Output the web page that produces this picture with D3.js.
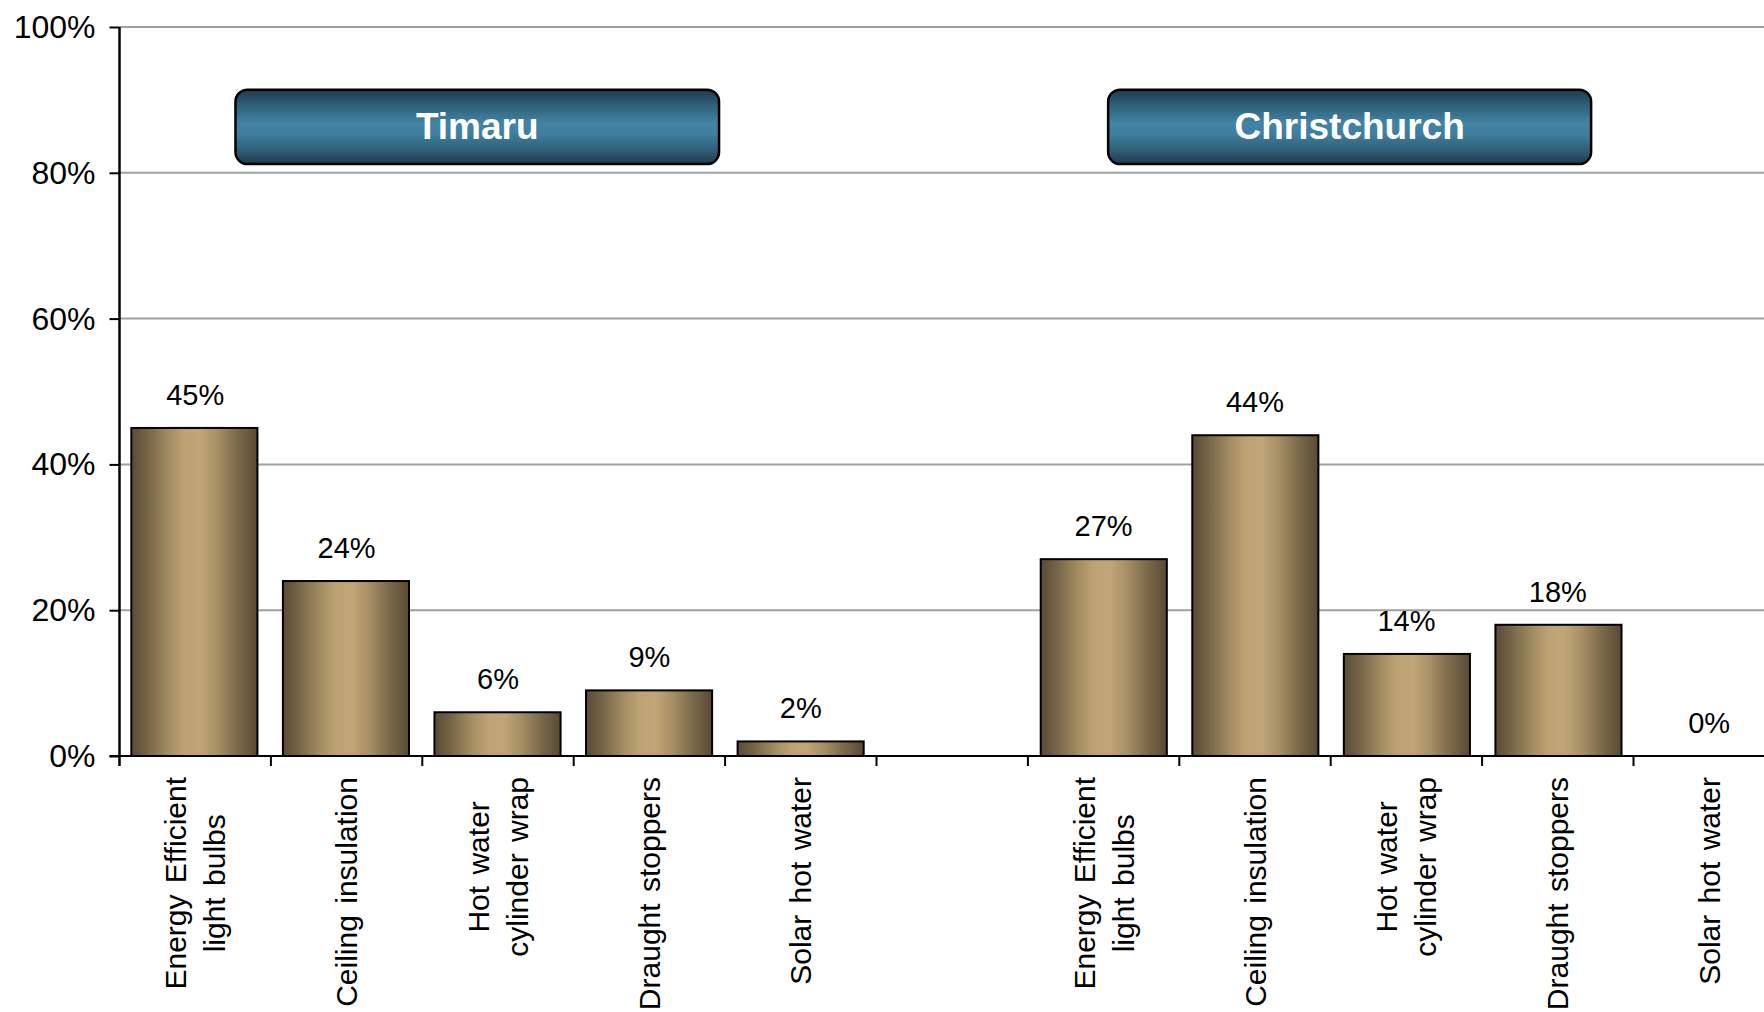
<!DOCTYPE html>
<html>
<head>
<meta charset="utf-8">
<script src="https://cdn.jsdelivr.net/npm/d3@7"></script>
<style>
  html, body { margin: 0; padding: 0; background: #ffffff; }
  svg { display: block; font-family: "Liberation Sans", Arial, sans-serif; }
</style>
</head>
<body>
<svg id="chart" width="1764" height="1012"></svg>
<script>
// Energy-saving measures adopted, by city (percent of households)
const cities = ["Timaru", "Christchurch"];
const measures = [
  "Energy Efficient\nlight bulbs",
  "Ceiling insulation",
  "Hot water\ncylinder wrap",
  "Draught stoppers",
  "Solar hot water"
];
const timaruValues = [45, 24, 6, 9, 2];
const christchurchValues = [27, 44, 14, 18, 0];
const yTicks = [0, 20, 40, 60, 80, 100];

(function () {
const W = 1764, H = 1012;
const svg = d3.select("#chart");

// Plot frame (the category axis runs past the right edge of the page)
const plotLeft = 119.5, plotTop = 27, plotBottom = 756;
const slotWidth = 151.4;

// one slot per measure, with an empty slot between the two cities
const slots = [];
measures.forEach((m, i) => slots.push({ key: "T" + i, label: m, value: timaruValues[i] }));
slots.push({ key: "gap", label: "", value: null });
measures.forEach((m, i) => slots.push({ key: "C" + i, label: m, value: christchurchValues[i] }));

const xSlot = d3.scaleBand()
  .domain(slots.map(d => d.key))
  .range([plotLeft, plotLeft + slots.length * slotWidth])
  .padding(0);
const xBar = d3.scaleBand()
  .domain(slots.map(d => d.key))
  .range([plotLeft, plotLeft + slots.length * slotWidth])
  .paddingInner(0.168)
  .paddingOuter(0.078);
const y = d3.scaleLinear().domain([0, 100]).range([plotBottom, plotTop]);

const defs = svg.append("defs");
const barGrad = defs.append("linearGradient")
  .attr("id", "barFill").attr("x1", 0).attr("x2", 1).attr("y1", 0).attr("y2", 0);
[[0, "#594b35"], [0.1, "#6e5f44"], [0.3, "#a38d62"], [0.42, "#bda372"], [0.55, "#c0a677"],
 [0.68, "#a89066"], [0.84, "#7c6a4b"], [1, "#584a34"]]
  .forEach(([o, c]) => barGrad.append("stop").attr("offset", o).attr("stop-color", c));

const boxGrad = defs.append("linearGradient")
  .attr("id", "boxFill").attr("x1", 0).attr("x2", 0).attr("y1", 0).attr("y2", 1);
[[0, "#1f3a4b"], [0.2, "#2f5e77"], [0.45, "#4284a4"], [0.6, "#3f7f9e"], [0.85, "#2c5870"], [1, "#1f3b4d"]]
  .forEach(([o, c]) => boxGrad.append("stop").attr("offset", o).attr("stop-color", c));

// horizontal gridlines
svg.append("g").selectAll("line")
  .data(yTicks.filter(t => t > 0))
  .join("line")
  .attr("x1", plotLeft).attr("x2", W)
  .attr("y1", d => y(d)).attr("y2", d => y(d))
  .attr("stroke", "#a0a0a0").attr("stroke-width", 2);

// value axis
const yAxis = svg.append("g").attr("transform", `translate(${plotLeft},0)`)
  .call(d3.axisLeft(y).tickValues(yTicks).tickFormat(d => d + "%").tickSize(10).tickPadding(14));
yAxis.select(".domain").remove();
yAxis.selectAll(".tick line").attr("stroke", "#000").attr("stroke-width", 2);
yAxis.selectAll(".tick text").attr("fill", "#000").attr("font-size", 32)
  .attr("font-family", "Liberation Sans, Arial, sans-serif").attr("dy", "0.33em");

// bars
svg.append("g").selectAll("rect")
  .data(slots.filter(d => d.value !== null))
  .join("rect")
  .attr("x", d => xBar(d.key))
  .attr("width", xBar.bandwidth())
  .attr("y", d => y(d.value))
  .attr("height", d => y(0) - y(d.value))
  .attr("fill", "url(#barFill)")
  .attr("stroke", "#000").attr("stroke-width", 2);

// value labels
svg.append("g").selectAll("text")
  .data(slots.filter(d => d.value !== null))
  .join("text")
  .attr("x", d => xSlot(d.key) + xSlot.bandwidth() / 2)
  .attr("y", d => y(d.value) - 23)
  .attr("text-anchor", "middle")
  .attr("font-size", 29)
  .attr("fill", "#000")
  .text(d => d.value + "%");

// category axis line and slot-boundary ticks
svg.append("line")
  .attr("x1", plotLeft - 10).attr("x2", W)
  .attr("y1", plotBottom).attr("y2", plotBottom)
  .attr("stroke", "#000").attr("stroke-width", 2);
svg.append("line")
  .attr("x1", plotLeft).attr("x2", plotLeft)
  .attr("y1", plotTop).attr("y2", plotBottom + 10)
  .attr("stroke", "#000").attr("stroke-width", 2.5);
svg.append("g").selectAll("line")
  .data(slots)
  .join("line")
  .attr("x1", d => xSlot(d.key) + xSlot.bandwidth()).attr("x2", d => xSlot(d.key) + xSlot.bandwidth())
  .attr("y1", plotBottom).attr("y2", plotBottom + 10)
  .attr("stroke", "#000").attr("stroke-width", 2);

// rotated category labels
const lineGap = 39;
const labelGroups = svg.append("g").selectAll("g")
  .data(slots.filter(d => d.label))
  .join("g")
  .attr("transform", d => `translate(${xSlot(d.key) + xSlot.bandwidth() / 2},${plotBottom}) rotate(-90)`);
labelGroups.each(function (d) {
  const g = d3.select(this);
  const lines = d.label.split("\n");
  const texts = lines.map((ln, i) => g.append("text")
    .attr("text-anchor", "middle")
    .attr("font-size", 30)
    .attr("word-spacing", 3)
    .attr("fill", "#000")
    .attr("y", (i - (lines.length - 1) / 2) * lineGap)
    .attr("dy", "0.35em")
    .text(ln));
  const longest = d3.max(texts, t => t.node().getComputedTextLength());
  texts.forEach(t => t.attr("x", -(21 + longest / 2)));
});

// city header boxes
const slotIndex = d3.scaleLinear().domain([0, slots.length]).range([plotLeft, plotLeft + slots.length * slotWidth]);
const headerSpans = [[0.766, 3.96], [6.53, 9.72]];
const headers = svg.append("g").selectAll("g")
  .data(cities)
  .join("g");
headers.append("rect")
  .attr("x", (d, i) => slotIndex(headerSpans[i][0]))
  .attr("width", (d, i) => slotIndex(headerSpans[i][1]) - slotIndex(headerSpans[i][0]))
  .attr("y", y(91.4))
  .attr("height", y(81.2) - y(91.4))
  .attr("rx", 12).attr("ry", 12)
  .attr("fill", "url(#boxFill)")
  .attr("stroke", "#000").attr("stroke-width", 2.5);
headers.append("text")
  .attr("x", (d, i) => (slotIndex(headerSpans[i][0]) + slotIndex(headerSpans[i][1])) / 2)
  .attr("y", (y(91.4) + y(81.2)) / 2)
  .attr("dy", "0.34em")
  .attr("text-anchor", "middle")
  .attr("font-size", 37)
  .attr("font-weight", "bold")
  .attr("fill", "#ffffff")
  .text(d => d);
})();
</script>
</body>
</html>
